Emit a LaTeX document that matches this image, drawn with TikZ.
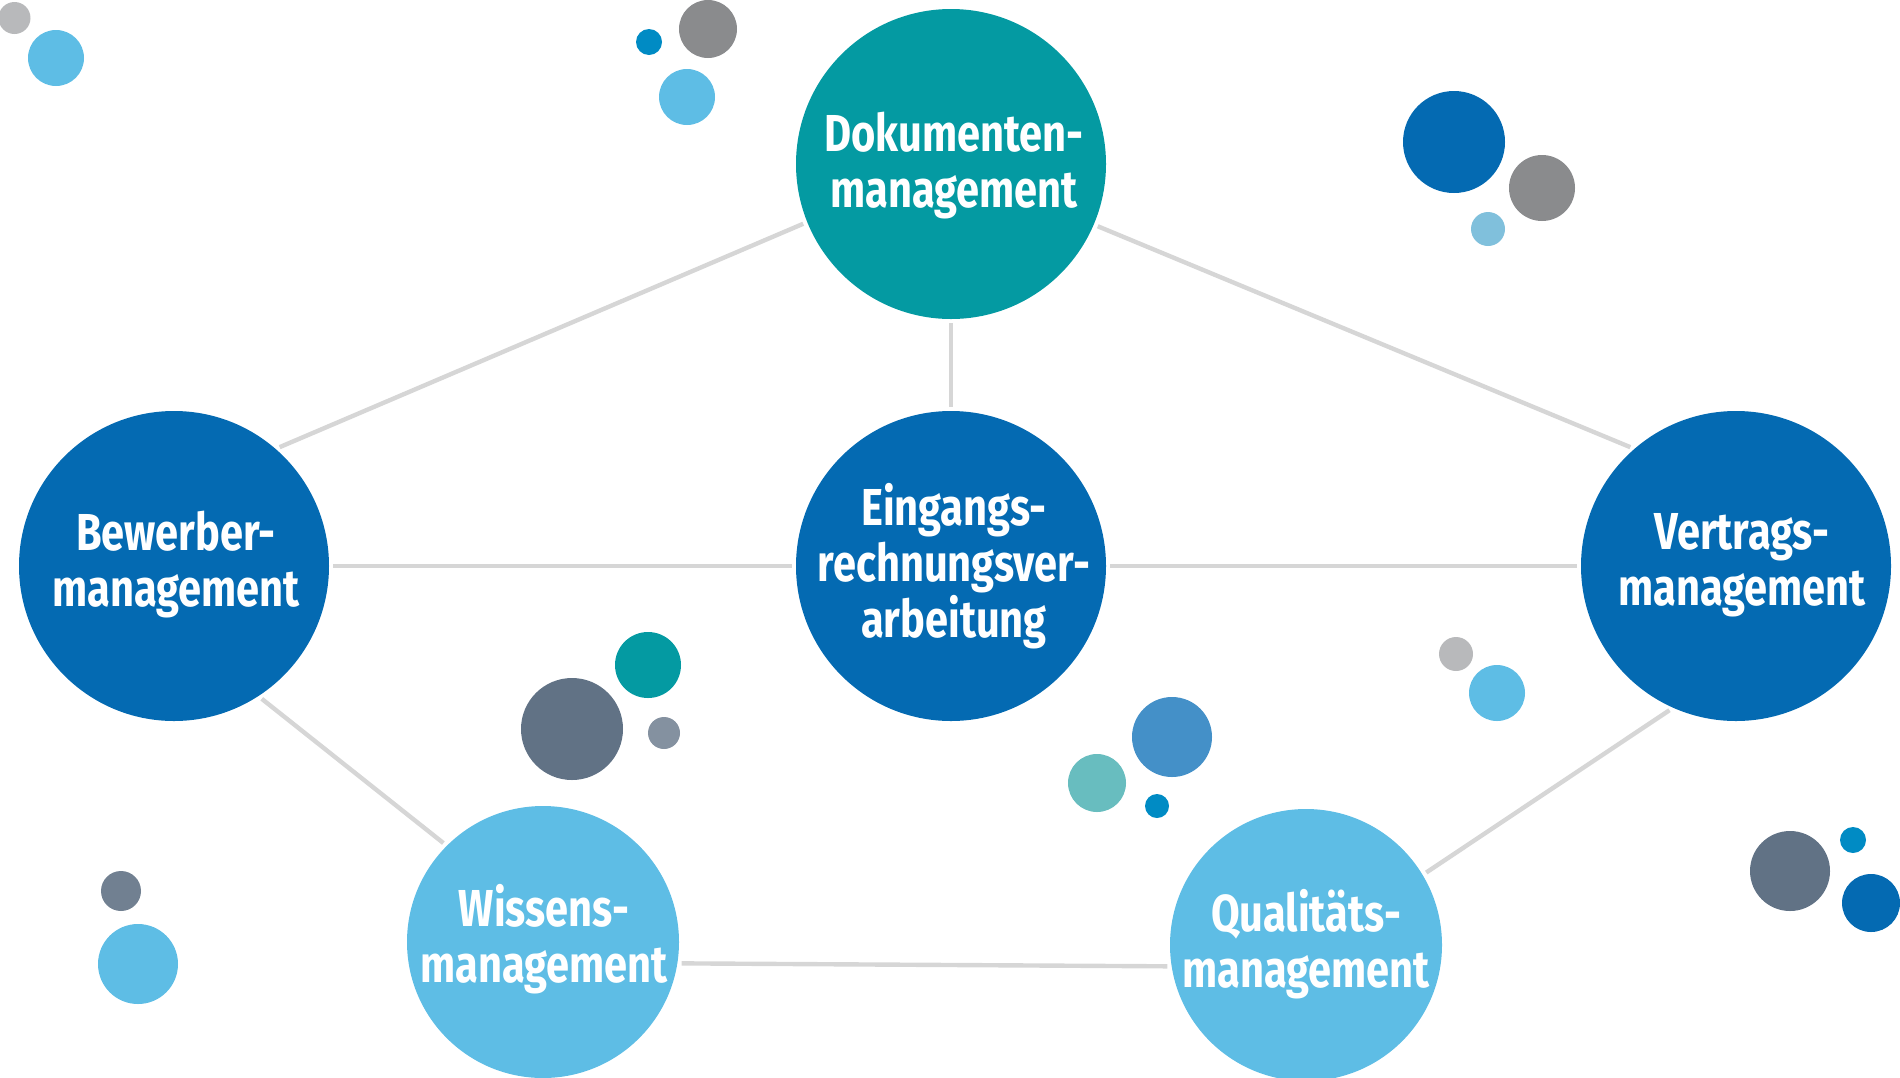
\documentclass[tikz,border=0pt]{standalone}
\usepackage{fontspec}
\setmainfont[FakeStretch=0.80]{Fira Sans}
\definecolor{dkblue}{HTML}{046AB2}
\definecolor{teal}{HTML}{049AA2}
\definecolor{ltblue}{HTML}{5EBDE5}
\definecolor{lgray}{HTML}{B8B9BB}
\definecolor{mgray}{HTML}{8A8B8D}
\definecolor{cyanb}{HTML}{008BC4}
\definecolor{paleb}{HTML}{80C0DC}
\definecolor{slate}{HTML}{617285}
\definecolor{slatel}{HTML}{8491A0}
\definecolor{midb}{HTML}{4490C8}
\definecolor{tealL}{HTML}{68BDBF}
\definecolor{linec}{HTML}{D6D6D6}
\tikzset{
  big/.style={circle, inner sep=0pt, minimum size=155pt},
  smallc/.style={circle, inner sep=0pt, minimum size=136pt},
  txt/.style={inner sep=0pt, text=white,
    font=\bfseries\fontsize{26}{28}\selectfont, align=center},
  conn/.style={draw=linec, line width=2.2pt, shorten <=2pt, shorten >=2pt}
}
\begin{document}
\begin{tikzpicture}[x=0.5pt,y=-0.5pt]
\useasboundingbox (0,0) rectangle (1900,1077);
% decorative dots
\fill[lgray] (14.5,18) circle (8pt);
\fill[ltblue] (56,58) circle (14pt);
\fill[cyanb] (649,42) circle (6.5pt);
\fill[mgray] (708,29) circle (14.5pt);
\fill[ltblue] (687,97) circle (14pt);
\fill[dkblue] (1454,142) circle (25.5pt);
\fill[mgray] (1542,188) circle (16.5pt);
\fill[paleb] (1488,229) circle (8.5pt);
\fill[teal] (648,665) circle (16.5pt);
\fill[slate] (572,729) circle (25.5pt);
\fill[slatel] (664,733) circle (8pt);
\fill[slate!90!white] (121,891) circle (10pt);
\fill[ltblue] (138,964) circle (20pt);
\fill[midb] (1172,737) circle (20pt);
\fill[tealL] (1097,783) circle (14.5pt);
\fill[cyanb] (1157,806) circle (6pt);
\fill[lgray] (1456,654) circle (8.5pt);
\fill[ltblue] (1497,693) circle (14pt);
\fill[slate] (1790,871) circle (20pt);
\fill[cyanb] (1853,840) circle (6.5pt);
\fill[dkblue] (1871,903) circle (14.5pt);
% main circles
\node[big, fill=teal] (dok) at (951,164) {};
\node[big, fill=dkblue] (ein) at (951,566) {};
\node[big, fill=dkblue] (bew) at (174,566) {};
\node[big, fill=dkblue] (ver) at (1736,566) {};
\node[smallc, fill=ltblue] (wis) at (543,942) {};
\node[smallc, fill=ltblue] (qua) at (1306,945) {};
% labels
\node[txt] (dokT) at (954,166) {Dokumenten-\\management};
\node[txt] (einT) at (954,566) {Eingangs-\\rechnungsver-\\arbeitung};
\node[txt] (bewT) at (176,565) {Bewerber-\\management};
\node[txt] (verT) at (1742,565) {Vertrags-\\management};
\node[txt] (wisT) at (544,939) {Wissens-\\management};
\node[txt] (quaT) at (1306,944) {Qualitäts-\\management};
% connectors
\draw[conn] (dok.202.6) -- (bew.49);
\draw[conn] (dok.337.4) -- (ver.131);
\draw[conn] (dok.south) -- (ein.north);
\draw[conn] (bew.east) -- (ein.west);
\draw[conn] (ein.east) -- (ver.west);
\draw[conn] (bew.303) -- (wis.135);
\draw[conn] (wis.-9.5) -- (qua.189.5);
\draw[conn] (qua.31.4) -- (ver.246.4);
\end{tikzpicture}
\end{document}
